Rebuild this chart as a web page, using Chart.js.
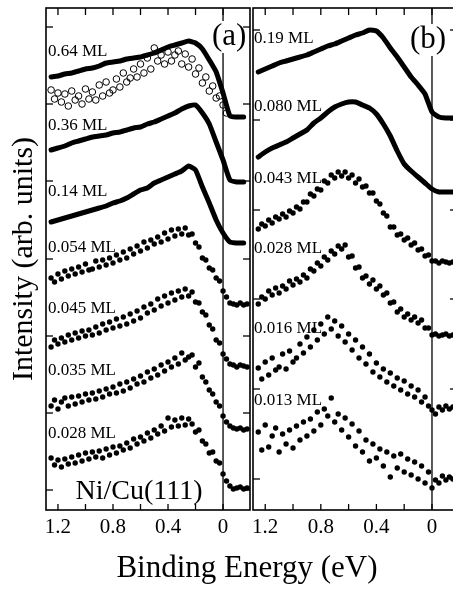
<!DOCTYPE html>
<html>
<head>
<meta charset="utf-8">
<script src="https://cdn.jsdelivr.net/npm/chart.js@4/dist/chart.umd.min.js"></script>
<style>
  html, body { margin: 0; padding: 0; background: #fff; }
  body { width: 453px; height: 592px; overflow: hidden; position: relative; font-family: "Liberation Serif", serif; }
  #cA { position: absolute; left: 0; top: 0; }
  #cB { position: absolute; left: 243px; top: 0; }
  #xTitle { position: absolute; left: 0; top: 549px; width: 494px; text-align: center;
            font-size: 31px; line-height: 36px; color: #000; }
</style>
</head>
<body>
<canvas id="cA" width="260" height="592"></canvas>
<canvas id="cB" width="220" height="592"></canvas>
<div id="xTitle">Binding Energy (eV)</div>
<script>
/* ---- Ni/Cu(111) photoemission spectra, two panels ---- */

// binding energies (eV)
const energyFine = [1.25, 1.225, 1.2, 1.175, 1.15, 1.125, 1.1, 1.075, 1.05, 1.025, 1.0, 0.975, 0.95, 0.925,
  0.9, 0.875, 0.85, 0.825, 0.8, 0.775, 0.75, 0.725, 0.7, 0.675, 0.65, 0.625, 0.6, 0.575, 0.55, 0.525,
  0.5, 0.475, 0.45, 0.425, 0.4, 0.375, 0.35, 0.325, 0.3, 0.275, 0.25, 0.225, 0.2, 0.175, 0.15, 0.125,
  0.1, 0.075, 0.05, 0.025, 0, -0.025, -0.05, -0.075, -0.1, -0.125, -0.15, -0.175];
const energyCoarse = [1.25, 1.2, 1.15, 1.1, 1.05, 1.0, 0.95, 0.9, 0.85, 0.8, 0.75, 0.7, 0.65, 0.6, 0.55,
  0.5, 0.45, 0.4, 0.35, 0.3, 0.25, 0.2, 0.15, 0.1, 0.05, 0, -0.05, -0.1, -0.15];

// panel (a) intensities, offset spectra (arb. units)
const a064 = [433, 434, 436, 437, 439, 441, 442, 444, 447, 448, 449, 451, 452, 453, 455, 457, 460, 463, 465,
  467, 469, 467, 461, 450, 438, 417, 394, 393, 393];
const a064open = [420, 411, 417, 408, 416, 404, 419, 410, 414, 406, 421, 411, 418, 410, 425, 414, 428, 417,
  420, 431, 423, 437, 428, 432, 441, 433, 446, 437, 452, 441, 462, 449, 455, 446, 458, 449, 455, 459, 446,
  456, 443, 451, 436, 442, 427, 433, 419, 424, 412, 414, 405, 397];
const a036 = [360, 362, 364, 367, 369, 371, 373, 374, 375, 377, 378, 380, 382, 383, 386, 388, 391, 394, 397,
  401, 404, 405, 397, 386, 368, 350, 330, 328, 328];
const a014 = [288, 290, 292, 294, 296, 298, 300, 302, 304, 307, 309, 312, 316, 320, 322, 327, 330, 333, 336,
  339, 344, 340, 323, 307, 290, 277, 268, 267, 267];
const a0054 = [232, 228, 236, 231, 239, 234, 241, 236, 243, 238, 246, 240, 241, 249, 243, 250, 245, 252, 247,
  255, 250, 258, 252, 261, 256, 264, 259, 268, 262, 270, 266, 273, 268, 277, 271, 280, 274, 281, 276, 282,
  275, 276, 267, 263, 252, 250, 242, 240, 232, 229, 219, 213, 207, 206, 205, 207, 205, 206];
const a0045 = [163, 170, 166, 172, 168, 175, 170, 177, 172, 179, 174, 180, 175, 183, 177, 186, 180, 188, 182,
  191, 184, 193, 186, 196, 189, 199, 192, 203, 197, 206, 200, 211, 204, 214, 207, 217, 210, 219, 213, 221,
  214, 218, 208, 207, 198, 195, 185, 181, 170, 167, 156, 151, 146, 145, 143, 145, 144, 143];
const a0035 = [104, 110, 101, 108, 112, 104, 113, 106, 114, 108, 116, 110, 117, 111, 119, 113, 121, 116, 123,
  117, 126, 119, 128, 122, 131, 126, 134, 128, 138, 132, 141, 135, 145, 139, 148, 143, 152, 146, 157, 150,
  153, 155, 143, 147, 133, 128, 120, 116, 108, 104, 94, 88, 84, 82, 81, 82, 80, 81];
const a0028 = [52, 45, 50, 43, 51, 46, 53, 47, 55, 49, 57, 51, 58, 53, 59, 52, 61, 55, 63, 57, 64, 60, 67, 62,
  71, 66, 73, 69, 77, 72, 80, 76, 84, 79, 92, 83, 90, 84, 92, 85, 91, 86, 78, 80, 69, 66, 57, 58, 49, 47,
  36, 29, 24, 21, 22, 23, 21, 22];

// panel (b)
const b019 = [438, 441, 444, 447, 449, 451, 453, 455, 458, 461, 464, 466, 469, 472, 475, 477, 480, 479, 472,
  462, 453, 443, 433, 425, 416, 398, 393, 392, 392];
const b0080 = [353, 358, 362, 365, 368, 372, 376, 380, 387, 392, 398, 403, 406, 408, 408, 405, 402, 396, 386,
  374, 359, 346, 339, 333, 327, 321, 318, 318, 318];
const b0043 = [281, 286, 284, 290, 287, 293, 291, 296, 293, 299, 297, 303, 301, 308, 308, 316, 314, 321, 320,
  329, 327, 335, 332, 338, 334, 338, 332, 335, 327, 331, 323, 324, 317, 317, 309, 306, 297, 294, 283, 283,
  275, 276, 270, 272, 265, 267, 260, 261, 254, 255, 249, 249, 247, 249, 248, 247, 248, 248];
const b0028 = [206, 213, 211, 219, 215, 222, 217, 224, 221, 229, 225, 231, 228, 235, 232, 241, 239, 247, 244,
  253, 250, 259, 256, 264, 261, 265, 253, 254, 242, 243, 232, 234, 226, 230, 221, 224, 215, 217, 207, 208,
  198, 201, 193, 196, 190, 193, 187, 190, 182, 182, 175, 176, 174, 175, 176, 174, 175, 175];
const b0016 = [142, 131, 148, 135, 152, 140, 143, 156, 141, 159, 148, 152, 166, 157, 173, 163, 180, 170, 186,
  176, 193, 181, 189, 174, 184, 168, 176, 160, 170, 152, 163, 146, 156, 138, 147, 133, 141, 128, 137, 124,
  132, 120, 129, 116, 124, 113, 120, 108, 113, 104, 100, 96, 103, 100, 104, 101, 103, 102];
const b0013 = [78, 60, 85, 63, 74, 82, 58, 76, 66, 80, 62, 84, 70, 88, 74, 91, 79, 98, 85, 101, 94, 112, 88,
  96, 80, 92, 73, 86, 64, 79, 58, 70, 49, 66, 52, 61, 44, 58, 33, 54, 42, 56, 38, 51, 35, 48, 31, 44, 27,
  38, 22, 30, 27, 34, 30, 33, 31, 32];

// coverage labels and where they sit (intensity units)
const labelsA = ['0.64 ML', '0.36 ML', '0.14 ML', '0.054 ML', '0.045 ML', '0.035 ML', '0.028 ML'];
const labelYA = [458, 384, 318, 262, 201, 139, 76];
const labelsB = ['0.19 ML', '0.080 ML', '0.043 ML', '0.028 ML', '0.016 ML', '0.013 ML'];
const labelYB = [471, 403, 331, 261, 181, 109];

// axis ticks
const xTickValues = [1.2, 0.8, 0.4, 0];
const xMinorTicks = [1.0, 0.6, 0.2];
const yTicksA = [20, 97, 174, 251, 329, 406, 483];
const yTicksB = [31, 121, 211, 300, 390, 480];

const SERIF = '"Liberation Serif", "Times New Roman", serif';
Chart.defaults.font.family = SERIF;
Chart.defaults.color = '#000';

const pts = (xs, ys) => ys.map((v, i) => ({ x: xs[i], y: v }));

function lineSet(ys) {
  return {
    data: pts(energyCoarse, ys), showLine: true, borderColor: '#000', borderWidth: 5,
    borderJoinStyle: 'round', borderCapStyle: 'round', pointRadius: 0, tension: 0.15
  };
}
function dotSet(ys) {
  return {
    data: pts(energyFine, ys), showLine: false, pointRadius: 2.7, pointBorderWidth: 0,
    pointBackgroundColor: '#000', backgroundColor: '#000'
  };
}

// frame, inward ticks, Fermi line and the text inside a panel
function framePlugin(cfg) {
  return {
    id: 'frame',
    afterDatasetsDraw(chart) {
      const { ctx, chartArea: a, scales: { x, y } } = chart;
      const seg = (x1, y1, x2, y2) => { ctx.beginPath(); ctx.moveTo(x1, y1); ctx.lineTo(x2, y2); ctx.stroke(); };
      ctx.save();
      ctx.strokeStyle = '#000';
      ctx.fillStyle = '#000';

      ctx.lineWidth = 1.3;
      const xf = x.getPixelForValue(0);
      seg(xf, a.top, xf, a.bottom);

      ctx.font = '17px ' + SERIF;
      ctx.textAlign = 'left';
      ctx.textBaseline = 'middle';
      cfg.labels.forEach((t, i) => ctx.fillText(t, x.getPixelForValue(cfg.labelX), y.getPixelForValue(cfg.labelY[i])));

      // panel tag on a white patch
      ctx.font = '31px ' + SERIF;
      ctx.textAlign = 'center';
      const tx = x.getPixelForValue(cfg.tag[1]), ty = y.getPixelForValue(cfg.tag[2]);
      const w = ctx.measureText(cfg.tag[0]).width;
      ctx.fillStyle = '#fff';
      ctx.fillRect(tx - w / 2 - 2, ty - 16, w + 4, 32);
      ctx.fillStyle = '#000';
      ctx.fillText(cfg.tag[0], tx, ty);

      if (cfg.note) {
        ctx.font = '28px ' + SERIF;
        ctx.fillText(cfg.note[0], x.getPixelForValue(cfg.note[1]), y.getPixelForValue(cfg.note[2]));
      }

      ctx.lineWidth = 1.6;
      ctx.strokeRect(a.left, a.top, a.right - a.left, a.bottom - a.top);
      ctx.lineWidth = 1.3;
      xTickValues.concat(xMinorTicks).forEach(v => {
        const px = x.getPixelForValue(v);
        seg(px, a.bottom, px, a.bottom - 6);
        seg(px, a.top, px, a.top + 7);
      });
      cfg.yTicks.forEach(v => {
        const py = y.getPixelForValue(v);
        seg(a.left, py, a.left + 7, py);
        seg(a.right, py, a.right - 7, py);
      });
      ctx.restore();
    }
  };
}

function xScale(min, max) {
  return {
    type: 'linear', reverse: true, min, max,
    grid: { display: false }, border: { display: false },
    afterBuildTicks: s => { s.ticks = xTickValues.map(v => ({ value: v })); },
    afterFit: s => { s.height = 82; },
    ticks: {
      autoSkip: false, maxRotation: 0, padding: -3,
      font: { size: 21, family: SERIF }, color: '#000',
      callback: v => (v === 0 ? '0' : v.toFixed(1))
    }
  };
}

const commonOpts = {
  responsive: false, animation: false, events: [],
  plugins: { legend: { display: false }, tooltip: { enabled: false } }
};

new Chart(document.getElementById('cA'), {
  type: 'scatter',
  data: {
    datasets: [
      lineSet(a064),
      { data: pts(energyFine, a064open), showLine: false, pointRadius: 3.3, pointBorderWidth: 1,
        pointBorderColor: '#000', pointBackgroundColor: 'rgba(255,255,255,0)' },
      lineSet(a036), lineSet(a014),
      dotSet(a0054), dotSet(a0045), dotSet(a0035), dotSet(a0028)
    ]
  },
  options: {
    ...commonOpts,
    layout: { padding: { top: 8, right: 10, left: 0, bottom: 0 } },
    scales: {
      x: xScale(-0.196, 1.287),
      y: {
        type: 'linear', min: 0, max: 502,
        grid: { display: false }, border: { display: false },
        ticks: { display: false },
        afterFit: s => { s.width = 46; },
        title: { display: true, text: 'Intensity (arb. units)', color: '#000',
                 font: { size: 30, family: SERIF }, padding: { top: 6, bottom: 0 } }
      }
    }
  },
  plugins: [framePlugin({
    labels: labelsA, labelY: labelYA, labelX: 1.273, yTicks: yTicksA,
    tag: ['(a)', -0.044, 473], note: ['Ni/Cu(111)', 0.611, 18]
  })]
});

new Chart(document.getElementById('cB'), {
  type: 'scatter',
  data: {
    datasets: [
      lineSet(b019), lineSet(b0080),
      dotSet(b0043), dotSet(b0028), dotSet(b0016), dotSet(b0013)
    ]
  },
  options: {
    ...commonOpts,
    layout: { padding: { top: 8, right: 6, left: 10, bottom: 0 } },
    scales: {
      x: xScale(-0.18, 1.288),
      y: { type: 'linear', display: false, min: 0, max: 502 }
    }
  },
  plugins: [framePlugin({
    labels: labelsB, labelY: labelYB, labelX: 1.28, yTicks: yTicksB,
    tag: ['(b)', 0.029, 470]
  })]
});
</script>
</body>
</html>
